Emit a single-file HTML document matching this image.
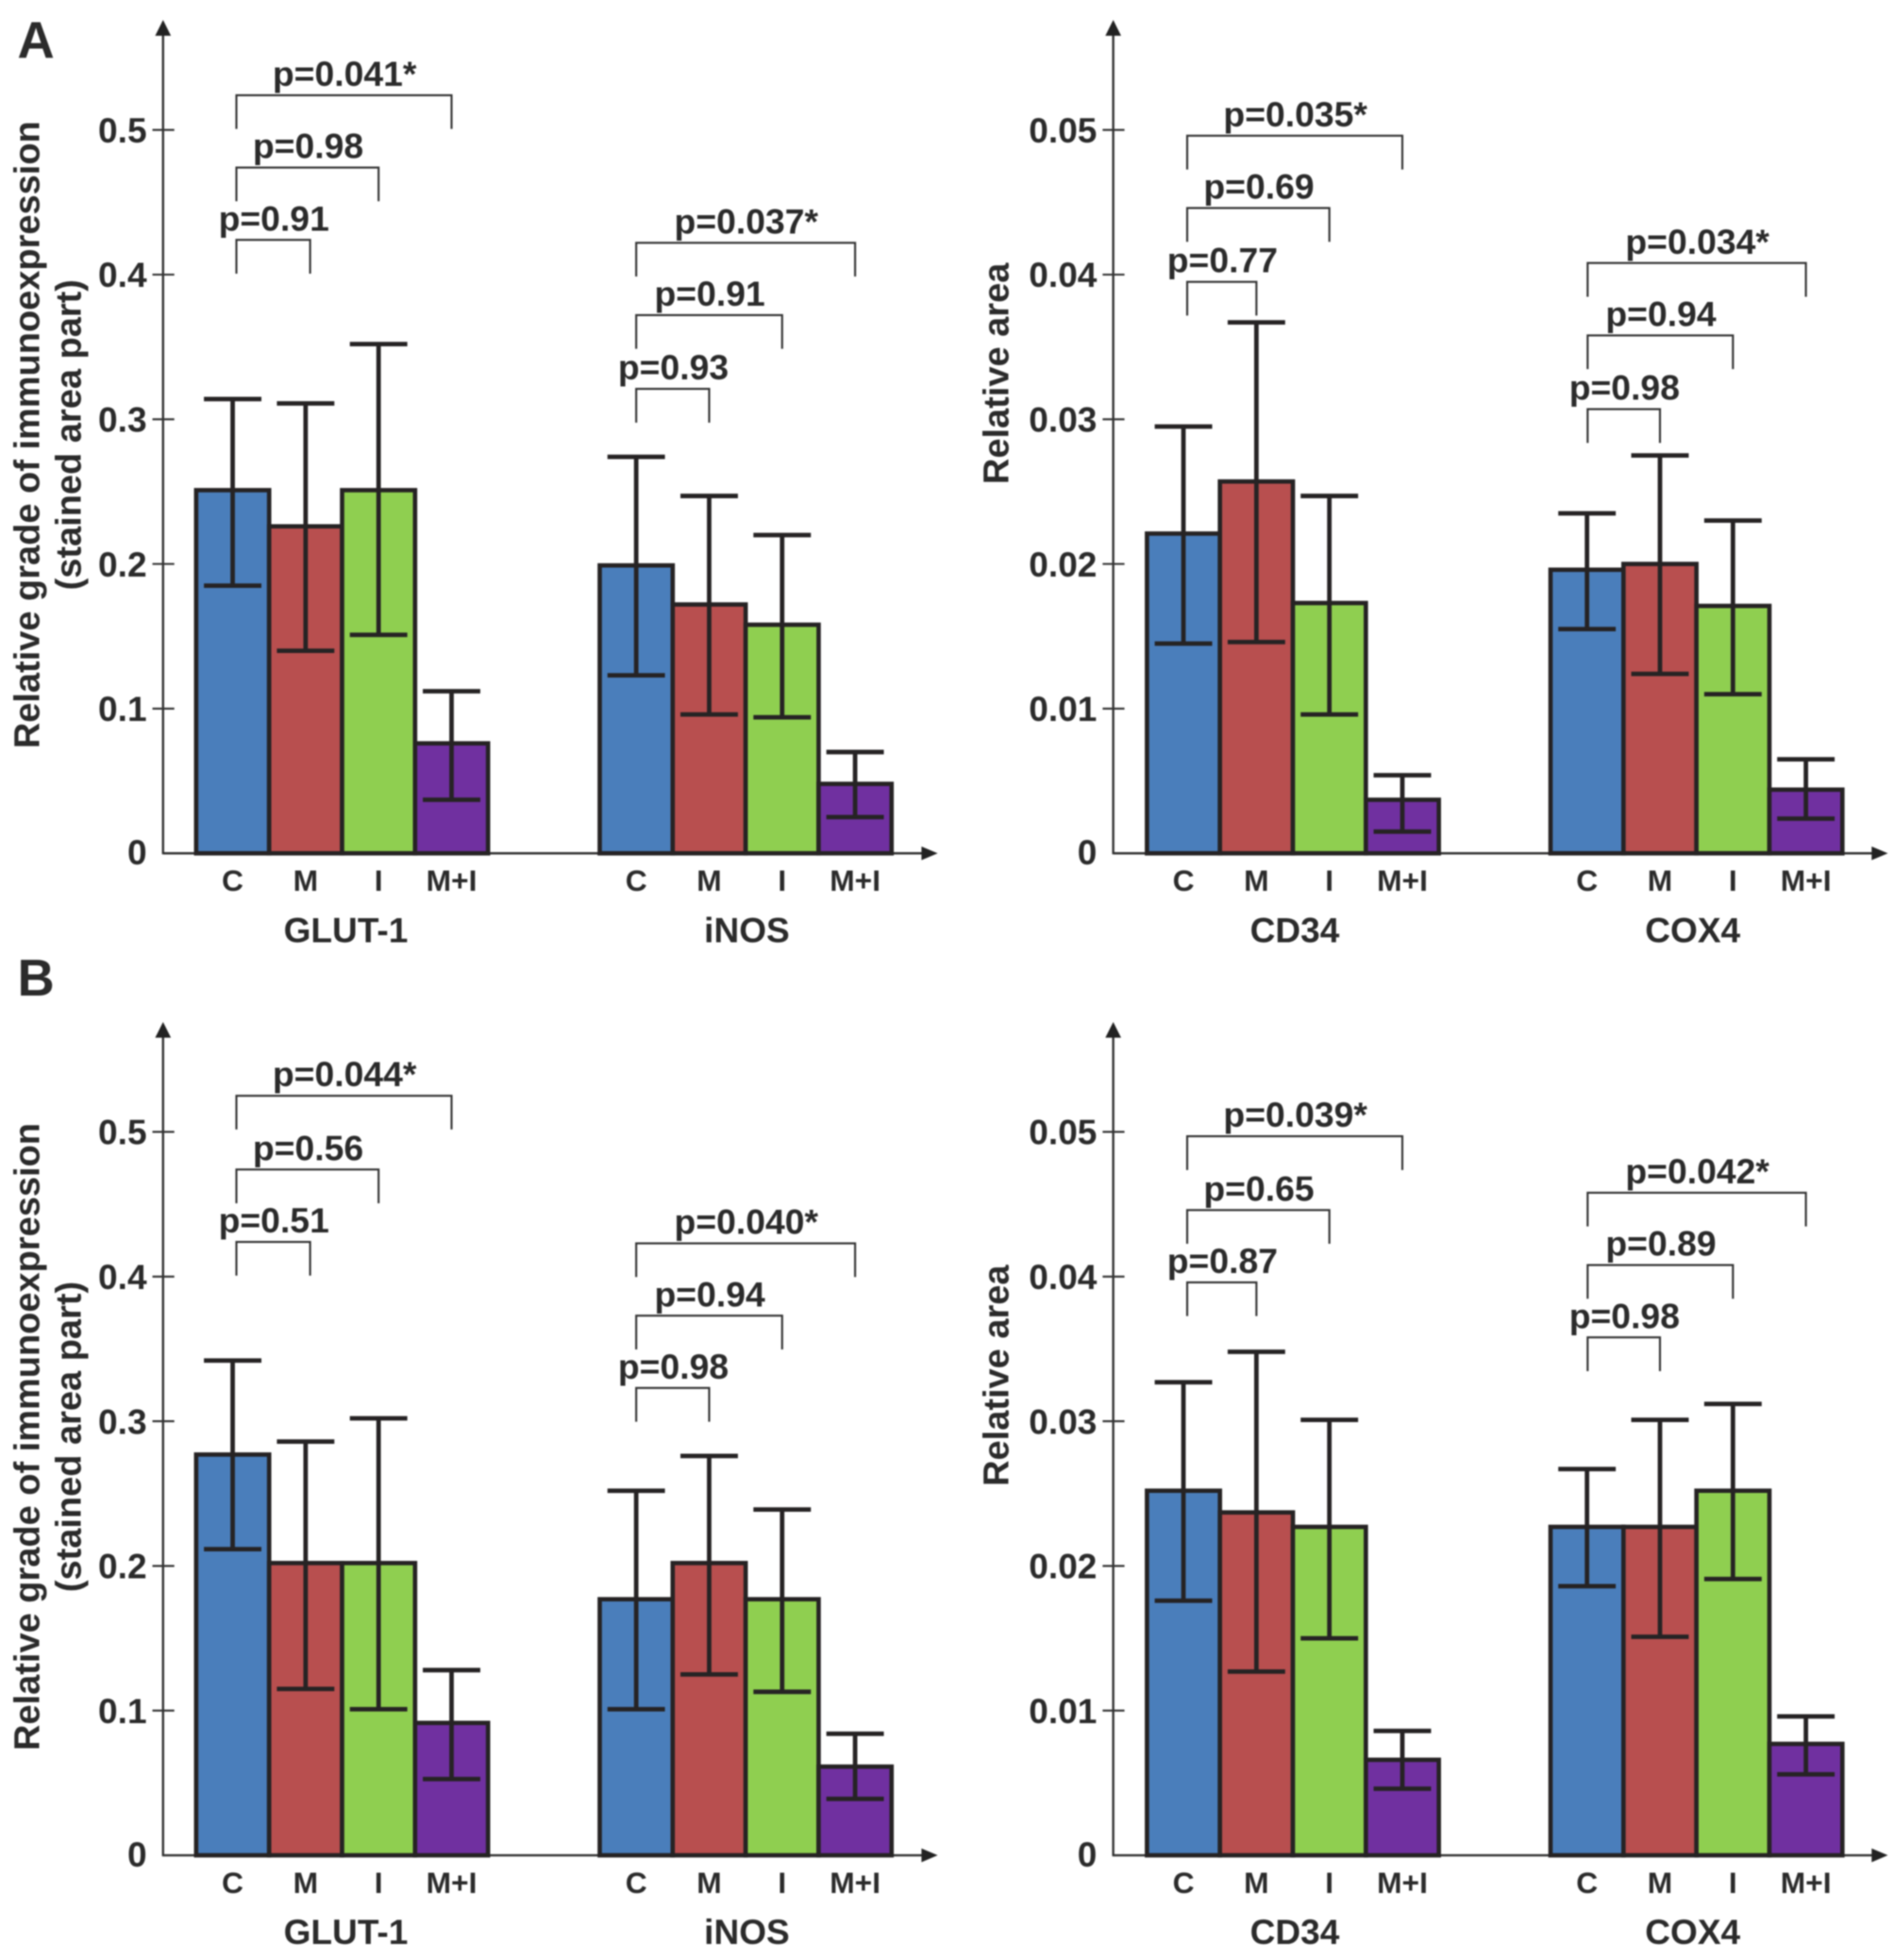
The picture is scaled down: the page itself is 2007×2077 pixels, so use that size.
<!DOCTYPE html>
<html lang="en">
<head>
<meta charset="utf-8">
<title>Relative immunoexpression and area by treatment group</title>
<style>
html,body{margin:0;padding:0;background:#fff;width:2007px;height:2077px;overflow:hidden}
svg{display:block;filter:blur(0.8px)}
text{font-family:"Liberation Sans",sans-serif;fill:#2b2b2b}
.b{font-weight:700}
</style>
</head>
<body>
<svg id="figure" xmlns="http://www.w3.org/2000/svg" width="2007" height="2077" viewBox="0 0 1515.9 1568.8"></svg>
<script>
// Shared categories and axis ticks
const categories = ["C", "M", "I", "M+I"];
const barColors = ["#4a7ebb", "#b84f4f", "#8fcf50", "#7030a0"];
const leftTicks = [0.1, 0.2, 0.3, 0.4, 0.5];
const leftTickLabels = ["0.1", "0.2", "0.3", "0.4", "0.5"];
const rightTicks = [0.01, 0.02, 0.03, 0.04, 0.05];
const rightTickLabels = ["0.01", "0.02", "0.03", "0.04", "0.05"];

// Section A - GLUT-1
const aGlutMeans = [0.251, 0.226, 0.251, 0.076];
const aGlutHigh = [0.314, 0.311, 0.352, 0.112];
const aGlutLow = [0.185, 0.140, 0.151, 0.037];
const aGlutBrackets = [0.424, 0.474, 0.524];
const aGlutP = ["p=0.91", "p=0.98", "p=0.041*"];
// Section A - iNOS
const aInosMeans = [0.199, 0.172, 0.158, 0.048];
const aInosHigh = [0.274, 0.247, 0.220, 0.070];
const aInosLow = [0.123, 0.096, 0.094, 0.025];
const aInosBrackets = [0.321, 0.372, 0.422];
const aInosP = ["p=0.93", "p=0.91", "p=0.037*"];
// Section A - CD34
const aCd34Means = [0.0221, 0.0257, 0.0173, 0.0037];
const aCd34High = [0.0295, 0.0367, 0.0247, 0.0054];
const aCd34Low = [0.0145, 0.0146, 0.0096, 0.0015];
const aCd34Brackets = [0.0395, 0.0446, 0.0496];
const aCd34P = ["p=0.77", "p=0.69", "p=0.035*"];
// Section A - COX4
const aCox4Means = [0.0196, 0.0200, 0.0171, 0.0044];
const aCox4High = [0.0235, 0.0275, 0.0230, 0.0065];
const aCox4Low = [0.0155, 0.0124, 0.0110, 0.0024];
const aCox4Brackets = [0.0307, 0.0358, 0.0408];
const aCox4P = ["p=0.98", "p=0.94", "p=0.034*"];
// Section B - GLUT-1
const bGlutMeans = [0.277, 0.202, 0.202, 0.0915];
const bGlutHigh = [0.342, 0.286, 0.302, 0.128];
const bGlutLow = [0.2116, 0.115, 0.101, 0.0527];
const bGlutBrackets = [0.424, 0.474, 0.525];
const bGlutP = ["p=0.51", "p=0.56", "p=0.044*"];
// Section B - iNOS
const bInosMeans = [0.177, 0.202, 0.177, 0.0613];
const bInosHigh = [0.252, 0.276, 0.239, 0.084];
const bInosLow = [0.101, 0.125, 0.113, 0.039];
const bInosBrackets = [0.323, 0.373, 0.423];
const bInosP = ["p=0.98", "p=0.94", "p=0.040*"];
// Section B - CD34
const bCd34Means = [0.0252, 0.0237, 0.0227, 0.0066];
const bCd34High = [0.0327, 0.0348, 0.0301, 0.0086];
const bCd34Low = [0.0176, 0.0127, 0.0150, 0.0046];
const bCd34Brackets = [0.0396, 0.0446, 0.0497];
const bCd34P = ["p=0.87", "p=0.65", "p=0.039*"];
// Section B - COX4
const bCox4Means = [0.0227, 0.0227, 0.0252, 0.0077];
const bCox4High = [0.0267, 0.0301, 0.0312, 0.0096];
const bCox4Low = [0.0186, 0.0151, 0.0191, 0.0056];
const bCox4Brackets = [0.0358, 0.0408, 0.0458];
const bCox4P = ["p=0.98", "p=0.89", "p=0.042*"];

const NS = "http://www.w3.org/2000/svg";
const root = document.getElementById("figure");
const INK = "#262324";

function add(parent, tag, attrs, name, interact) {
  const el = document.createElementNS(NS, tag);
  for (const k in attrs) el.setAttribute(k, attrs[k]);
  
  
  parent.appendChild(el);
  return el;
}
function label(parent, str, x, y, size, anchor, cls, name, rot) {
  const attrs = {x: x, y: y, "font-size": size, "text-anchor": anchor, "class": cls};
  if (rot) attrs.transform = "rotate(-90 " + x + " " + y + ")";
  const t = add(parent, "text", attrs, name);
  t.textContent = str;
  return t;
}

function drawGroup(g, axisX, base, xOffset, yScale, name, dxLabel, startDx, firstEndDx, means, high, low, brackets, pvals) {
  const barW = 58.4;
  const barX = i => axisX + xOffset + i * barW;
  const centerX = i => barX(i) + barW / 2;
  const grp = add(g, "g", {}, name.toLowerCase() + "-group");
  means.forEach((v, i) => {
    const key = categories[i].toLowerCase().replace("+", "-plus-");
    add(grp, "rect", {x: barX(i), y: yScale(v), width: barW, height: base - yScale(v), fill: barColors[i], stroke: INK, "stroke-width": 3.5}, "bar-" + key);
  });
  means.forEach((v, i) => {
    const key = categories[i].toLowerCase().replace("+", "-plus-");
    const cx = centerX(i);
    const eg = add(grp, "g", {stroke: INK, "stroke-width": 3.6, fill: "none"}, "error-bar-" + key);
    add(eg, "line", {x1: cx, x2: cx, y1: yScale(high[i]), y2: yScale(low[i])}, "error-stem");
    add(eg, "line", {x1: cx - 23, x2: cx + 23, y1: yScale(high[i]), y2: yScale(high[i])}, "error-cap-high");
    add(eg, "line", {x1: cx - 23, x2: cx + 23, y1: yScale(low[i]), y2: yScale(low[i])}, "error-cap-low");
    label(grp, categories[i], cx, base + 30, 24, "middle", "b", "category-label-" + key);
  });
  brackets.forEach((v, i) => {
    const top = yScale(v);
    const x1 = centerX(0) + startDx;
    const x2 = centerX(i + 1) + (i === 0 ? firstEndDx : 0);
    add(grp, "path", {d: "M" + x1 + " " + (top + 27) + "V" + top + "H" + x2 + "V" + (top + 27), fill: "none", stroke: "#333", "stroke-width": 1.6}, "significance-bracket");
    label(grp, pvals[i], (x1 + x2) / 2 + 0.5, top - 7.5, 28.2, "middle", "b", "p-value-label");
  });
  label(grp, name, barX(2) + dxLabel, base + 71, 28, "middle", "b", "group-label-" + name.toLowerCase());
}

function drawPanel(name, axisX, base, ticks, tickLabels, unit, titles, groups) {
  const g = add(root, "g", {}, name);
  const yScale = v => base - v / unit * 115.8;
  add(g, "line", {x1: axisX, x2: axisX, y1: base + 0.8, y2: base - 655, stroke: "#333", "stroke-width": 1.8}, "y-axis");
  add(g, "path", {d: "M" + axisX + " " + (base - 667) + "l6.3 12.6h-12.6z", fill: "#222"}, "y-axis-arrow");
  add(g, "line", {x1: axisX, x2: axisX + 608, y1: base, y2: base, stroke: "#333", "stroke-width": 1.8}, "x-axis");
  add(g, "path", {d: "M" + (axisX + 620) + " " + base + "l-13 -5.5v11z", fill: "#222"}, "x-axis-arrow");
  ticks.forEach((t, i) => {
    const y = yScale(t);
    add(g, "line", {x1: axisX - 8.5, x2: axisX + 9, y1: y, y2: y, stroke: "#333", "stroke-width": 1.6}, "y-tick");
    label(g, tickLabels[i], axisX - 13, y + 10, 28, "end", "b", "y-tick-label");
  });
  label(g, "0", axisX - 13, base + 9, 28, "end", "b", "y-tick-label-zero");
  titles.forEach(tt => {
    label(g, tt.text, axisX + tt.dx, tt.cy, 28.7, "middle", "b", tt.name, true);
  });
  groups.forEach(a => drawGroup(g, axisX, base, a[0], yScale, a[1], a[2], a[3], a[4], a[5], a[6], a[7], a[8], a[9]));
}

const SHIFT = 802;
const leftTitleA = [
  {text: "Relative grade of immunoexpression", dx: -99, cy: 348, name: "y-axis-title"},
  {text: "(stained area part)", dx: -66, cy: 348, name: "y-axis-subtitle"}
];
const rightTitleA = [{text: "Relative area", dx: -84, cy: 299, name: "y-axis-title"}];
const shifted = arr => arr.map(t => Object.assign({}, t, {cy: t.cy + SHIFT}));

drawPanel("panel-a-left", 130.5, 683, leftTicks, leftTickLabels, 0.1, leftTitleA, [
  [26.5, "GLUT-1", 3, 3, 3.6, aGlutMeans, aGlutHigh, aGlutLow, aGlutBrackets, aGlutP],
  [349.5, "iNOS", 1, 0, 0, aInosMeans, aInosHigh, aInosLow, aInosBrackets, aInosP]
]);
drawPanel("panel-a-right", 891, 683, rightTicks, rightTickLabels, 0.01, rightTitleA, [
  [27, "CD34", 1.5, 3, 0, aCd34Means, aCd34High, aCd34Low, aCd34Brackets, aCd34P],
  [350, "COX4", -3, 0.5, 0, aCox4Means, aCox4High, aCox4Low, aCox4Brackets, aCox4P]
]);
drawPanel("panel-b-left", 130.5, 683 + SHIFT, leftTicks, leftTickLabels, 0.1, shifted(leftTitleA), [
  [26.5, "GLUT-1", 3, 3, 3.6, bGlutMeans, bGlutHigh, bGlutLow, bGlutBrackets, bGlutP],
  [349.5, "iNOS", 1, 0, 0, bInosMeans, bInosHigh, bInosLow, bInosBrackets, bInosP]
]);
drawPanel("panel-b-right", 891, 683 + SHIFT, rightTicks, rightTickLabels, 0.01, shifted(rightTitleA), [
  [27, "CD34", 1.5, 3, 0, bCd34Means, bCd34High, bCd34Low, bCd34Brackets, bCd34P],
  [350, "COX4", -3, 0.5, 0, bCox4Means, bCox4High, bCox4Low, bCox4Brackets, bCox4P]
]);

label(root, "A", 14, 46, 41, "start", "b", "section-label-a");
label(root, "B", 14, 797, 41, "start", "b", "section-label-b");
</script>
</body>
</html>
